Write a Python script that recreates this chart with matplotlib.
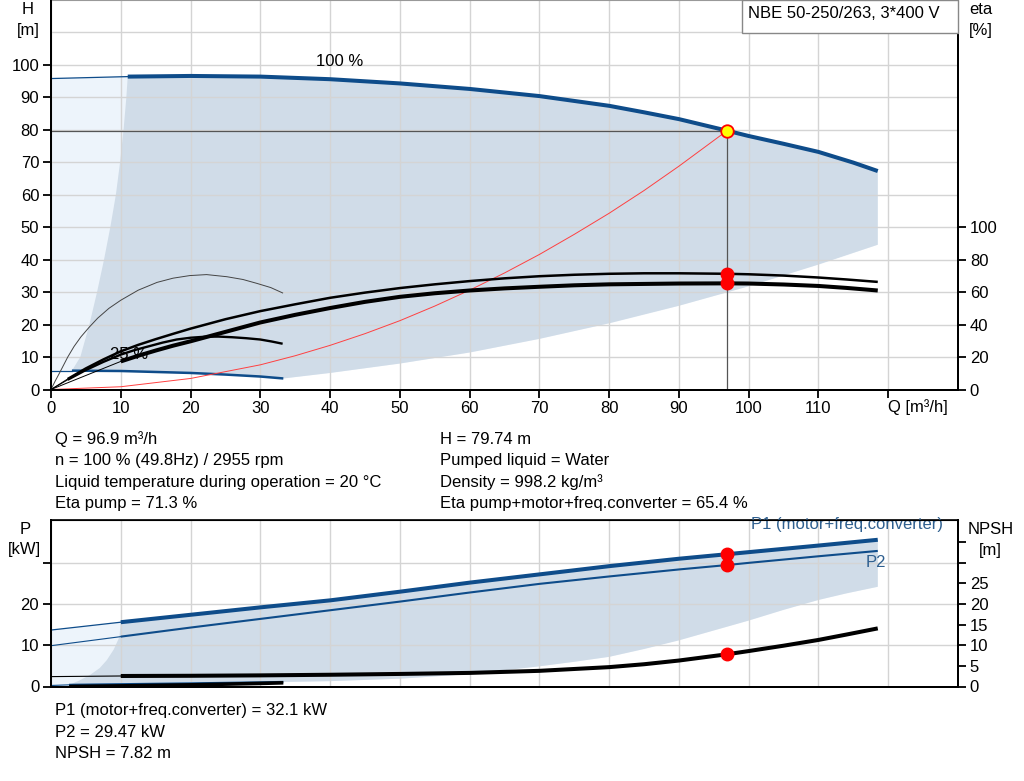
import matplotlib
matplotlib.use('Agg')
import matplotlib.pyplot as plt
import matplotlib.patches as patches
import numpy as np

plt.rcParams['font.family'] = ['Liberation Sans', 'DejaVu Sans']
plt.rcParams['font.size'] = 12

# ---- values ----
# head curve at 100 % speed (thin below q = 11)
q_h100 = [0, 11, 20, 30, 40, 50, 60, 70, 80, 85, 90, 96.9, 100, 105, 110, 115, 118.5]
h_100 = [95.8, 96.4, 96.6, 96.4, 95.6, 94.3, 92.6, 90.4, 87.4, 85.4, 83.3, 79.74, 78.1,
         75.7, 73.2, 69.9, 67.3]

# head curve at 25 % speed (thin below q = 3)
q_h25 = [0, 3, 10, 20, 25, 30, 33.3]
h_25 = [5.8, 5.8, 5.7, 5.1, 4.6, 4.0, 3.4]

# borders of the operating area
q_minflow = [3.0, 4.2, 5.5, 6.6, 7.6, 8.5, 9.3, 9.9, 10.4, 10.8, 11.0]
h_minflow = [5.8, 10, 20, 30, 40, 50, 60, 70, 80, 90, 96.4]
q_maxflow = [33.3, 40, 50, 60, 70, 80, 90, 100, 110, 118.5]
h_maxflow = [3.4, 5.1, 8.0, 11.4, 15.6, 20.4, 25.8, 31.8, 38.5, 44.6]

# system curve
q_sys = [0, 10, 20, 30, 35, 40, 45, 50, 55, 60, 65, 70, 75, 80, 85, 90, 96.9]
h_sys = [0, 0.85, 3.4, 7.6, 10.4, 13.6, 17.2, 21.2, 25.7, 30.6, 35.9, 41.6, 47.8, 54.3,
         61.3, 68.8, 79.74]

# efficiencies [%]
q_eta_pump = [0, 2.4, 5, 7.5, 10, 12.5, 15, 17.5, 20, 25, 30, 35, 40, 45, 50, 55, 60, 65,
              70, 75, 80, 85, 90, 96.9, 100, 105, 110, 114, 118.5]
eta_pump = [0, 6.5, 13, 18.5, 23.5, 27.5, 31, 34.3, 37.5, 43.3, 48.3, 52.5, 56.5, 59.7,
            62.5, 64.8, 66.8, 68.5, 69.8, 70.7, 71.3, 71.6, 71.6, 71.3, 71.0, 70.2, 69.0,
            67.8, 66.3]
q_eta_tot = [0, 10, 12.5, 15, 17.5, 20, 25, 30, 35, 40, 45, 50, 55, 60, 65, 70, 75, 80,
             90, 96.9, 100, 105, 110, 114, 118.5]
eta_tot = [0, 17.3, 20.8, 24, 27, 29.7, 35.5, 41.3, 46, 50.2, 54.0, 57.1, 59.3, 61.0, 62.3,
           63.3, 64.2, 64.8, 65.3, 65.4, 65.3, 64.7, 63.8, 62.6, 61.0]
q_eta_tot25 = [0, 2.4, 5, 7.5, 10, 12, 14, 16, 18, 20, 22, 24, 26, 28, 30, 31.6, 33.2]
eta_tot25 = [0, 6, 12, 17, 21.5, 24.3, 26.6, 28.9, 30.8, 31.9, 32.5, 32.6, 32.2, 31.6,
             30.8, 29.6, 28.2]
q_eta_pump25 = [0, 0.6, 1.2, 1.8, 2.4, 3.3, 4.3, 5.5, 6.7, 8.3, 10, 12.5, 15.2, 17.5, 19.9,
                22.3, 25.2, 27.5, 29.5, 31.5, 33.2]
eta_pump25 = [0, 5.2, 10, 15, 20, 26.5, 32.5, 38.5, 44, 50, 55, 61.2, 66, 68.6, 70.2, 70.8,
              69.5, 67.8, 65.4, 62.8, 59.5]

# power and NPSH
q_p = [0, 10, 20, 30, 40, 50, 60, 70, 80, 90, 96.9, 100, 110, 118.5]
p1 = [13.7, 15.6, 17.4, 19.2, 20.9, 23.0, 25.2, 27.2, 29.2, 31.0, 32.1, 32.6, 34.2, 35.6]
p2 = [9.9, 12.1, 14.3, 16.4, 18.5, 20.6, 22.8, 24.9, 26.7, 28.4, 29.47, 30.0, 31.6, 32.9]
q_npsh = [0, 10, 20, 30, 40, 50, 60, 70, 80, 85, 90, 96.9, 100, 105, 110, 114, 118.5]
npsh = [2.4, 2.55, 2.6, 2.7, 2.85, 3.05, 3.3, 3.8, 4.7, 5.4, 6.3, 7.82, 8.6, 9.9, 11.3,
        12.6, 14.1]
q_p25 = [0, 2.6, 10, 20, 30, 33.3]
p1_25 = [0.25, 0.4, 0.55, 0.75, 1.0, 1.1]
q_npsh25 = [2.6, 10, 20, 30, 33.3]
npsh_25 = [0.0, 0.15, 0.4, 0.75, 0.9]
q_pminflow = [2.6, 4, 5.6, 7, 8, 9, 9.8, 10.0]
p_minflow = [0.4, 1.4, 2.8, 4.5, 6.4, 9.0, 12.0, 15.6]
q_pmax = [33.3, 40, 50, 60, 70, 75, 80, 85, 90, 95, 100, 105, 110, 114, 118.5]
p_pmax = [1.1, 1.3, 1.9, 3.0, 4.9, 6.0, 7.2, 9.1, 11.2, 13.6, 16.0, 18.6, 21.0, 22.6, 24.2]

# duty point
q_duty, h_duty = 96.9, 79.74
eta_pump_duty, eta_tot_duty = 71.3, 65.4
p1_duty, p2_duty, npsh_duty = 32.1, 29.47, 7.82

x_ticks = list(range(0, 121, 10))
x_labels = [str(t) for t in x_ticks[:-1]] + ['']

BLUE = '#0e4c8a'
LIGHT = '#edf4fb'
SHADE = '#d0dce8'
GRID = '#d4d4d4'
W, H = 1024, 781


def split_plot(ax, q, v, q_split, color, lw_thin, lw_thick, z=2):
    q = np.asarray(q)
    v = np.asarray(v)
    ax.plot(q[q <= q_split], v[q <= q_split], color=color, lw=lw_thin, zorder=z)
    ax.plot(q[q >= q_split], v[q >= q_split], color=color, lw=lw_thick, zorder=z,
            solid_capstyle='butt')


def style_axis(a):
    a.tick_params(direction='out', length=5.5, width=1.3, pad=3, labelsize=12)
    for s in ['left', 'right', 'bottom']:
        a.spines[s].set_linewidth(1.4)


fig = plt.figure(figsize=(W / 100, H / 100), dpi=100)

# ---------------- head / efficiency chart ----------------
ax = fig.add_axes([51 / W, 1 - 389.5 / H, 907 / W, 389.5 / H])
ax.set_xlim(0, 130)
ax.set_ylim(0, 120)
ax.set_xticks(x_ticks)
ax.set_xticklabels(x_labels)
ax.set_yticks(range(0, 101, 10))
ax.grid(True, color=GRID, lw=1.0)
ax.axhline(110, color=GRID, lw=1.0, zorder=1.5)
style_axis(ax)
ax.spines['top'].set_color('#999999')

# operating area
light_q = q_h100 + q_maxflow[::-1] + q_h25[::-1]
light_h = h_100 + h_maxflow[::-1] + h_25[::-1]
ax.fill(light_q, light_h, color=LIGHT, lw=0, zorder=0.8)
dark_q = q_h100[1:] + q_maxflow[::-1] + q_h25[:0:-1] + q_minflow
dark_h = h_100[1:] + h_maxflow[::-1] + h_25[:0:-1] + h_minflow
ax.fill(dark_q, dark_h, color=SHADE, lw=0, zorder=0.9)

split_plot(ax, q_h100, h_100, 11, BLUE, 0.9, 2.9)
split_plot(ax, q_h25, h_25, 3, BLUE, 0.9, 1.8)
ax.plot(q_sys, h_sys, color='#ff4040', lw=0.7, zorder=2.1)
ax.plot([0, q_duty], [h_duty, h_duty], color='#555555', lw=0.9, zorder=2.2)
ax.plot([q_duty, q_duty], [0, h_duty], color='#555555', lw=0.9, zorder=2.2)
ax.plot([q_duty], [h_duty], 'o', ms=9, mfc='#ffff00', mec='#ff0000', mew=1.3, zorder=5)

ax.text(41.4, 101.2, '100 %', ha='center', va='center', fontsize=12)
ax.text(11.2, 10.9, '25 %', ha='center', va='center', fontsize=12)

ax_eta = ax.twinx()
ax_eta.set_ylim(0, 240)
ax_eta.set_yticks(range(0, 101, 20))
style_axis(ax_eta)
ax_eta.spines['top'].set_visible(False)
ax_eta.plot(q_eta_pump25, eta_pump25, color='#444444', lw=0.7)
split_plot(ax_eta, q_eta_tot25, eta_tot25, 2.4, 'black', 0.7, 1.7)
split_plot(ax_eta, q_eta_pump, eta_pump, 2.4, 'black', 0.7, 1.8)
split_plot(ax_eta, q_eta_tot, eta_tot, 10, 'black', 0.7, 2.9)
ax_eta.plot([q_duty, q_duty], [eta_pump_duty, eta_tot_duty], 'o', ms=9,
            color='#ff0000', zorder=5)

# ---------------- power / NPSH chart ----------------
ax2 = fig.add_axes([51 / W, 1 - 686.5 / H, 907 / W, 166.5 / H])
ax2.set_xlim(0, 130)
ax2.set_ylim(0, 40.4)
ax2.set_xticks(x_ticks)
ax2.set_xticklabels([])
ax2.set_yticks([0, 10, 20, 30])
ax2.set_yticklabels(['0', '10', '20', ''])
ax2.grid(True, color=GRID, lw=1.0)
style_axis(ax2)
ax2.tick_params(axis='x', length=0)
ax2.spines['top'].set_linewidth(1.2)

plight_q = q_p + q_pmax[::-1] + q_p25[::-1]
plight_v = p1 + p_pmax[::-1] + p1_25[::-1]
ax2.fill(plight_q, plight_v, color=LIGHT, lw=0, zorder=0.8)
pdark_q = q_p[1:] + q_pmax[::-1] + q_p25[:0:-1] + q_pminflow
pdark_v = p1[1:] + p_pmax[::-1] + p1_25[:0:-1] + p_minflow
ax2.fill(pdark_q, pdark_v, color=SHADE, lw=0, zorder=0.9)

split_plot(ax2, q_p, p1, 10, BLUE, 0.9, 2.9)
split_plot(ax2, q_p, p2, 10, BLUE, 0.8, 1.5)
split_plot(ax2, q_p25, p1_25, 2.6, BLUE, 0.8, 1.6)
ax2.plot([q_duty, q_duty], [p1_duty, p2_duty], 'o', ms=9, color='#ff0000', zorder=5)
ax2.text(100.4, 38.3, 'P1 (motor+freq.converter)', color='#2e5f8f', fontsize=12,
         ha='left', va='baseline', zorder=6)
ax2.text(116.8, 29.0, 'P2', color='#2e5f8f', fontsize=12, ha='left', va='baseline')

ax_npsh = ax2.twinx()
ax_npsh.set_ylim(0, 40.4)
ax_npsh.set_yticks(range(0, 36, 5))
ax_npsh.set_yticklabels(['0', '5', '10', '15', '20', '25', '', ''])
style_axis(ax_npsh)
split_plot(ax_npsh, q_npsh, npsh, 10, 'black', 0.8, 2.9)
ax_npsh.plot(q_npsh25, npsh_25, color='black', lw=2.6, solid_capstyle='butt')
ax_npsh.plot([q_duty], [npsh_duty], 'o', ms=9, color='#ff0000', zorder=5)

# ---------------- labels and texts ----------------
def ftext(x, y, s, **kw):
    fig.text(x / W, 1 - y / H, s, **kw)

ftext(27.5, 10, 'H', ha='center', va='center')
ftext(28, 30, '[m]', ha='center', va='center')
ftext(981, 10, 'eta', ha='center', va='center')
ftext(981, 30, '[%]', ha='center', va='center')
ftext(25, 529, 'P', ha='center', va='center')
ftext(24.5, 549.5, '[kW]', ha='center', va='center')
ftext(991, 529.5, 'NPSH', ha='center', va='center')
ftext(990, 550, '[m]', ha='center', va='center')
ftext(888, 407, 'Q [m³/h]', ha='left', va='center')

box = patches.Rectangle((742 / W, 1 - 33 / H), 216 / W, 33 / H, transform=fig.transFigure,
                        facecolor='white', edgecolor='#888888', lw=1.0, zorder=10)
fig.add_artist(box)
ftext(748, 14, 'NBE 50-250/263, 3*400 V', ha='left', va='center', zorder=11)

left_info = ['Q = 96.9 m³/h', 'n = 100 % (49.8Hz) / 2955 rpm',
             'Liquid temperature during operation = 20 °C', 'Eta pump = 71.3 %']
right_info = ['H = 79.74 m', 'Pumped liquid = Water', 'Density = 998.2 kg/m³',
              'Eta pump+motor+freq.converter = 65.4 %']
bottom_info = ['P1 (motor+freq.converter) = 32.1 kW', 'P2 = 29.47 kW', 'NPSH = 7.82 m']
for i, s in enumerate(left_info):
    ftext(55, 439 + i * 21.6, s, ha='left', va='center')
for i, s in enumerate(right_info):
    ftext(440, 439 + i * 21.6, s, ha='left', va='center')
for i, s in enumerate(bottom_info):
    ftext(55, 711 + i * 21.2, s, ha='left', va='center')

fig.savefig('out.png', dpi=100)
